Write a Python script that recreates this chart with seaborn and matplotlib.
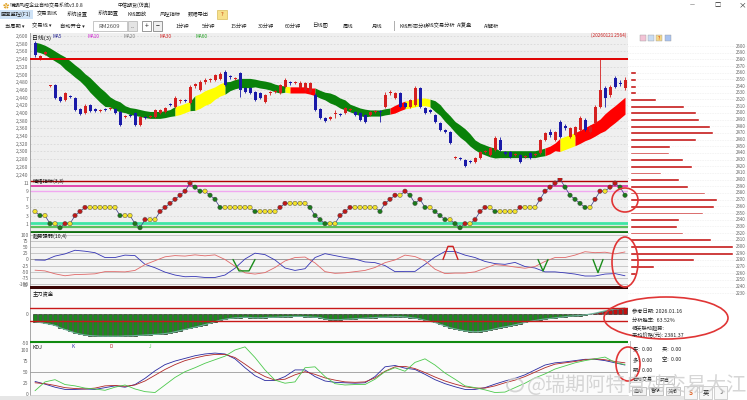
import numpy as np
import pandas as pd
import matplotlib
matplotlib.use("Agg")
import matplotlib.pyplot as plt
import seaborn as sns
from matplotlib.patches import Ellipse, Rectangle

sns.set_theme(style="white")
plt.rcParams["font.family"] = ["Noto Sans CJK SC", "DejaVu Sans"]
plt.rcParams["axes.unicode_minus"] = False

# ---------------- data ----------------
opens = [2582,2543,2553,2470,2473,2442,2434,2444,2439,2410,
         2400,2421,2410,2405,2410,2410,2410,2403,2390,2395,
         2400,2369,2390,2390,2390,2400,2403,2423,2416,2431,
         2434,2426,2470,2460,2481,2486,2486,2488,2507,2496,
         2488,2504,2465,2465,2455,2452,2429,2452,2455,2452,
         2468,2481,2478,2465,2460,2455,2447,2410,2387,2384,
         2397,2397,2400,2408,2403,2400,2395,2395,2403,2405,
         2416,2452,2439,2452,2426,2416,2421,2465,2413,2408,
         2395,2374,2356,2351,2283,2283,2278,2275,2273,2283,
         2299,2291,2304,2330,2299,2299,2291,2291,2286,2296,
         2291,2296,2330,2351,2330,2377,2366,2338,2343,2356,
         2382,2351,2374,2416,2465,2447,2491,2478,2465]
highs = [2587,2551,2561,2473,2475,2444,2455,2447,2442,2413,
         2423,2423,2413,2410,2413,2416,2413,2405,2395,2397,
         2403,2392,2392,2395,2410,2410,2416,2426,2444,2436,
         2436,2473,2478,2486,2491,2491,2501,2507,2512,2499,
         2494,2507,2468,2468,2457,2455,2449,2457,2460,2475,
         2491,2483,2483,2483,2481,2481,2452,2413,2390,2392,
         2408,2400,2416,2413,2405,2403,2397,2405,2408,2408,
         2455,2460,2455,2455,2429,2436,2470,2468,2416,2410,
         2397,2377,2358,2353,2288,2286,2280,2278,2286,2301,
         2304,2312,2340,2338,2301,2301,2296,2293,2291,2299,
         2296,2332,2351,2358,2353,2382,2371,2364,2366,2392,
         2387,2369,2421,2540,2470,2473,2496,2486,2494]
lows = [2546,2538,2551,2468,2436,2429,2431,2439,2405,2395,
        2397,2403,2403,2403,2405,2408,2397,2366,2387,2390,
        2366,2366,2384,2387,2387,2397,2400,2418,2413,2426,
        2429,2423,2465,2457,2475,2481,2483,2486,2470,2488,
        2486,2442,2452,2449,2431,2436,2426,2447,2452,2449,
        2465,2473,2475,2462,2457,2452,2405,2384,2377,2382,
        2387,2392,2397,2405,2392,2379,2374,2392,2400,2377,
        2413,2447,2436,2413,2413,2413,2418,2413,2397,2400,
        2374,2353,2348,2319,2280,2278,2260,2270,2270,2280,
        2296,2288,2301,2301,2291,2283,2288,2270,2283,2280,
        2288,2293,2327,2338,2327,2335,2356,2335,2340,2353,
        2353,2348,2371,2413,2416,2442,2465,2470,2460]
closes = [2551,2548,2559,2473,2439,2431,2452,2442,2408,2397,
          2418,2405,2405,2408,2408,2413,2400,2369,2392,2392,
          2369,2390,2387,2392,2408,2408,2413,2421,2439,2434,
          2431,2468,2475,2481,2486,2488,2499,2501,2473,2494,
          2491,2460,2455,2452,2434,2439,2447,2455,2457,2473,
          2486,2478,2481,2478,2478,2478,2408,2387,2379,2390,
          2400,2395,2413,2410,2395,2382,2377,2403,2405,2403,
          2447,2455,2452,2416,2416,2434,2465,2416,2400,2403,
          2377,2356,2351,2322,2286,2280,2262,2273,2283,2299,
          2301,2309,2335,2304,2293,2286,2293,2273,2288,2283,
          2293,2330,2348,2343,2351,2338,2361,2361,2364,2387,
          2356,2364,2416,2460,2439,2468,2468,2475,2486]

band_mid = [2572,2569,2564,2556,2548,2540,2530,2520,2509,2499,
            2486,2473,2460,2447,2436,2429,2421,2416,2410,2405,
            2403,2400,2397,2395,2395,2395,2397,2400,2405,2408,
            2413,2418,2426,2431,2439,2444,2452,2460,2465,2470,
            2475,2478,2478,2478,2478,2475,2473,2470,2465,2462,
            2462,2460,2460,2460,2460,2457,2455,2449,2444,2439,
            2434,2426,2421,2413,2408,2403,2400,2400,2400,2400,
            2403,2405,2410,2416,2421,2423,2426,2429,2429,2426,
            2418,2408,2392,2379,2364,2353,2343,2330,2317,2309,
            2304,2299,2296,2293,2293,2293,2293,2293,2293,2293,
            2293,2296,2299,2304,2312,2317,2322,2327,2332,2338,
            2345,2351,2358,2366,2376,2387,2397,2408,2419]
band_half = [12,12,12,13,13,13,16,16,16,16,
             16,19,19,19,19,13,13,13,9,9,
             9,9,9,9,9,9,9,9,12,12,
             12,12,19,19,19,19,16,16,16,12,
             12,12,12,12,10,10,10,10,10,10,
             8,8,8,8,8,8,10,10,10,13,
             13,13,13,10,10,10,10,8,8,8,
             8,8,10,10,10,10,10,10,10,10,
             14,14,14,14,14,16,16,16,13,13,
             13,13,13,9,9,9,9,9,9,9,
             9,9,10,10,10,17,17,17,17,17,
             17,18,18,18,22,22,22,22,22]
band_runs = [("G", 28), ("Y", 3), ("G", 1), ("Y", 6), ("G", 12), ("Y", 1),
             ("R", 5), ("G", 15), ("R", 3), ("Y", 5), ("G", 23), ("R", 3),
             ("Y", 3), ("R", 11)]
resistance = 2541

mood = [4,3,3,1,1,0,1,1,3,4,
        5,5,5,5,5,5,5,3,3,3,
        1,0,2,2,2,4,5,6,7,8,
        9,11,10,9,9,8,7,5,5,5,
        5,5,5,5,4,4,4,4,4,5,
        6,6,6,6,6,5,3,2,1,1,
        1,3,4,5,5,5,5,5,5,4,
        6,7,8,8,9,8,6,7,5,5,
        4,3,2,2,1,0,1,1,2,4,
        5,5,4,4,4,4,4,5,5,5,
        5,7,9,10,11,12,10,8,7,6,
        5,5,7,9,9,10,11,10,8]
mood_levels = [11.5, 10.3, 9.05, 1.25, 0.2, -1.0]
mood_level_colors = ["#b00000", "#e03aa8", "#f0a8f0", "#3fe6a6", "#5cc05c", "#0f6e0f"]
mood_level_widths = [1.0, 1.3, 1.0, 2.0, 1.6, 2.0]

osc_idx = list(range(0, 119, 2))
osc_blue = [-2,-3,14,23,38,34,28,8,8,18,16,-20,-34,-52,-64,-71,-70,-74,-74,-64,
            -36,2,26,20,-2,-35,-45,-38,8,24,16,8,2,-10,-13,-25,-50,-49,-49,-20,
            10,33,33,18,8,-8,-17,-20,-12,-29,-35,-51,-51,-55,-60,-68,-68,-60,-58,-67]
osc_red = [-44,-47,-59,-67,-62,-61,-59,-50,-50,-51,-45,-21,-5,11,16,14,19,15,19,0,
           -28,-55,-60,-54,-33,-6,8,10,-14,-50,-57,-55,-50,-45,-33,-13,-2,18,12,-5,
           -40,-58,-56,-56,-51,-36,-21,-25,-31,-36,-29,-8,8,8,18,32,28,30,23,31]
sig_v1_x = [39.6, 40.8, 42.8, 44.0]
sig_v1_y = [0, -47, -47, 0]
sig_a_x = [81.6, 82.6, 83.6, 84.6]
sig_a_y = [0, 54, 54, 0]
sig_v2_x = [100.6, 101.6, 102.6]
sig_v2_y = [0, -47, 0]
sig_v3_x = [111.6, 112.6, 113.6]
sig_v3_y = [0, -54, 0]

flow = [-13,-14,-15.5,-17,-19,-23,-26,-29,-32,-34,-35.5,-36.5,-37,
        -37.5,-37.5,-37.5,-37.5,-37.5,-37,-37,-36.5,
        -36,-35.5,-35,-34.5,-34,-33,-32,-30,-28,-26,-24,-22,-20,-17.5,-15.5,-12.5,-10,-8.5,-7,-6,-5.5,
        -5,-5.5,-6,-6,-5.5,-5,-5,-4.5,-4,-4,-3.5,-3.5,-4,-4.5,-5,-5.5,
        -8,-9,-9,-9,-8.5,-8,-7.5,-7,-6.5,-6,-5.5,-5,-5,-4.5,-4,-4,-4.5,-5.5,-6.5,-8,
        -10,-12,-14,-17,-20,-23,-25,-27,-28.5,-29.5,-30,-29.5,-28.5,-27,-25,-23,-21.5,-20,
        -18,-16,-14,-12,-10.5,-9,-8,-7,-6,-5,-4,-3,-2.5,-2,-1,0.5,2,4,6,8,9,10,11]
flow_levels = [47.5, 11.5, -11.5, -47.5]
flow_level_colors = ["#3a0505", "#c81818", "#c81818", "#108a10"]
flow_level_widths = [2.2, 1.0, 1.0, 1.5]

kdj_k = [29,23,16,11,11,12,11,15,19,16,22,36,53,67,75,81,87,91,93,91,
         80,60,42,31,31,40,55,55,40,30,27,26,25,26,40,62,65,59,56,45,
         33,24,17,11,11,15,23,30,36,44,55,66,71,73,76,79,79,76,71,66]
kdj_d = [26,24,20,15,13,12,14,19,20,18,21,30,43,56,67,76,82,87,90,90,
         83,68,52,40,32,34,44,51,45,37,32,28,27,28,37,52,62,63,58,49,
         39,30,23,17,14,14,19,26,32,40,50,60,68,71,74,78,80,78,74,71]
kdj_j = [8,28,33,22,19,14,12,9,16,21,12,6,4,21,38,51,60,70,78,86,
         100,107,83,55,32,25,28,60,62,40,24,21,22,22,34,51,60,52,72,80,
         66,48,34,19,15,10,4,5,15,25,37,46,57,64,71,76,80,84,72,67]

profile_prices = [2560,2550,2540,2530,2520,2510,2500,2490,2480,2470,2460,2450,2440,2430,2420,2410,
                  2400,2390,2380,2370,2360,2350,2340,2330,2320,2310,2300,2290,2280,2270,2260]
profile_vol = [6,6,6,6,26,54,66,69,80,83,66,40,39,53,62,31,49,58,75,87,84,73,49,47,53,81,103,103,64,24,6]
profile_ticks = list(range(2600, 2229, -10))

main_ticks = list(range(2600, 2239, -20))
ma_names = ["MA5", "MA10", "MA20", "MA30", "MA60"]
ma_colors = ["#202090", "#d020d0", "#808080", "#d02020", "#20a020"]

menu_items = ["交易测试", "系统设置", "系统配置", "K线回放", "风控指标", "数据导出"]
period_items = ["1分钟", "5分钟", "15分钟", "30分钟", "60分钟", "日线图", "周线", "月线"]
tool_items = ["K线形态分析", "K线交易分析", "AI复盘", "AI解析"]

# ---------------- figure ----------------
W, H = 747, 400
fig = plt.figure(figsize=(W / 100, H / 100), dpi=100, facecolor="white")
XMIN, XMAX = -1, 118.6
n = len(opens)
idx = np.arange(n)


def pax(x0, y0, x1, y1):
    return fig.add_axes([x0 / W, 1 - y1 / H, (x1 - x0) / W, (y1 - y0) / H])


def ftext(x, y, s, **kw):
    kw.setdefault("fontsize", 4.2)
    kw.setdefault("va", "center")
    kw.setdefault("color", "#222222")
    return fig.text(x / W, 1 - y / H, s, **kw)


def frect(x0, y0, x1, y1, **kw):
    fig.add_artist(Rectangle((x0 / W, 1 - y1 / H), (x1 - x0) / W, (y1 - y0) / H,
                             transform=fig.transFigure, **kw))


def style(ax, face):
    ax.set_facecolor(face)
    for s in ["top", "right"]:
        ax.spines[s].set_visible(False)
    ax.spines["bottom"].set_color("#c8c8c8")
    ax.spines["bottom"].set_linewidth(0.5)
    ax.spines["left"].set_color("#9a9a9a")
    ax.spines["left"].set_linewidth(0.6)
    ax.set_xticks([])
    ax.set_xlabel("")
    ax.set_ylabel("")
    ax.tick_params(axis="y", labelsize=3.6, colors="#666666", length=0, pad=1)
    ax.set_xlim(XMIN, XMAX)


# ---- window chrome ----
ftext(3, 5, "✿", color="#e0a020", fontsize=4.5)
ftext(10, 5, "瑞期风控企业自动交易系统v3.0.8", fontsize=3.6)
ftext(118, 5, "中信期货(仿真)", fontsize=3.6)
ftext(690, 5, "—", fontsize=4)
ftext(714, 5, "□", fontsize=4.5)
ftext(739, 5, "×", fontsize=5.5)
frect(0, 10, 33, 18.5, facecolor="#cfe3f7", edgecolor="none")
ftext(1, 14, "画面监控(F1)", fontsize=3.8)
for xm, t in zip([37, 67, 98, 127, 160, 188], menu_items):
    ftext(xm, 14, t, fontsize=3.8)
frect(217, 10, 227, 18.5, facecolor="#f7e08a", edgecolor="#d0b040", lw=0.4)
ftext(222, 14, "?", fontsize=4, ha="center", color="#c03000")

for x0, t in [(4, "当周期 ▾"), (31, "交易线 ▾"), (59, "自动开仓 ▾")]:
    ftext(x0 + 1, 26, t, fontsize=3.8)
frect(93, 21, 127, 31, facecolor="white", edgecolor="#b0b0b0", lw=0.5)
ftext(98, 26, "RM2609", fontsize=4.2, color="#555555")
frect(128, 21, 137, 31, facecolor="#e4e4e4", edgecolor="#b0b0b0", lw=0.5)
ftext(132.5, 26, "...", fontsize=3.5, ha="center")
frect(142, 21, 151, 31, facecolor="white", edgecolor="#707070", lw=0.5)
ftext(146.5, 26, "+", fontsize=5, ha="center")
frect(153, 21, 162, 31, facecolor="#f0f0f0", edgecolor="#707070", lw=0.5)
ftext(157.5, 26, "−", fontsize=5, ha="center")
for xp, t in zip([175, 202, 230, 258, 285, 312, 343, 372], period_items):
    ftext(xp, 26, t, fontsize=3.8)
frect(394, 21, 394.6, 31, facecolor="#b0b0b0", edgecolor="none")
for xp, t in zip([399, 426, 457, 484], tool_items):
    ftext(xp, 26, t, fontsize=3.8)

# ---- main candlestick chart ----
ax = pax(30, 33, 628, 178)
mid = np.array(band_mid, dtype=float)
half = np.array(band_half, dtype=float)
state = "".join(c * k for c, k in band_runs)
band_colors = {"G": "#0a820a", "Y": "#ffff00", "R": "#ff0000"}
start = 0
for k in range(1, n + 1):
    if k == n or state[k] != state[start]:
        end = min(k, n - 1)
        ax.fill_between(idx[start:end + 1], (mid - half)[start:end + 1], (mid + half)[start:end + 1],
                        color=band_colors[state[start]], lw=0, zorder=1)
        start = k

df = pd.DataFrame({"idx": idx, "open": opens, "high": highs, "low": lows, "close": closes})
up = df["close"] >= df["open"]
ccol = np.where(up, "#d42020", "#1a1aa8")
ax.vlines(df["idx"], df["low"], df["high"], colors=ccol, lw=0.6, zorder=2)
ax.bar(df["idx"], (df["close"] - df["open"]).abs().clip(lower=1.5),
       bottom=np.minimum(df["open"], df["close"]), width=0.6, color=ccol, lw=0, zorder=3)
ax.axhline(resistance, color="#e00000", lw=1.4, zorder=4)
for v in main_ticks:
    ax.axhline(v, color="#cdcdcd", lw=0.4, ls=(0, (3, 3)), zorder=0)
style(ax, "#efefef")
ax.set_ylim(2231, 2608)
ax.set_yticks(main_ticks)
ax.set_yticklabels([f"{v:,}" for v in main_ticks])
ax.text(0.004, 0.985, "日线(3)", transform=ax.transAxes, fontsize=4.2, va="top", color="#111111")
for xm, t, c in zip([53, 88, 123, 160, 195], ma_names, ma_colors):
    ftext(xm, 36, t, fontsize=3.4, color=c)
ftext(591, 35.5, "(20260121 2564)", fontsize=3.4, color="#d02020")

# ---- panel 1: mood dots ----
ax1 = pax(30, 178, 628, 233)
for lv, c, w in zip(mood_levels, mood_level_colors, mood_level_widths):
    ax1.axhline(lv, color=c, lw=w, zorder=1)
for v in [7, 5, 3]:
    ax1.axhline(v, color="#cccccc", lw=0.4, ls=(0, (3, 3)), zorder=0)
d1 = pd.DataFrame({"idx": idx, "val": mood})
dif = np.diff(np.array(mood), prepend=mood[0])
d1["dir"] = np.where(dif > 0, "up", np.where(dif < 0, "down", "flat"))
sns.lineplot(data=d1, x="idx", y="val", ax=ax1, color="#3a3a8a", lw=0.5, zorder=2)
sns.scatterplot(data=d1, x="idx", y="val", hue="dir", ax=ax1, legend=False, s=10,
                palette={"up": "#c01818", "down": "#1a7a1a", "flat": "#f2e22a"},
                edgecolor="#404040", linewidth=0.3, zorder=3)
style(ax1, "#efefef")
ax1.set_ylim(-1.3, 12.25)
ax1.set_yticks([11, 9, 7, 5, 3, 1])
ax1.text(0.004, 0.99, "情绪指标(3,3)", transform=ax1.transAxes, fontsize=3.8, va="top", color="#111111")

# ---- panel 2: oscillator ----
ax2 = pax(30, 233, 628, 285)
for v in range(-100, 101, 25):
    ax2.axhline(v, color="#909090" if v == 0 else "#c0c0c0", lw=0.6, zorder=0)
sns.lineplot(x=osc_idx, y=osc_blue, ax=ax2, color="#3535b5", lw=0.6)
sns.lineplot(x=osc_idx, y=osc_red, ax=ax2, color="#e06868", lw=0.6)
for sx, sy in [(sig_v1_x, sig_v1_y), (sig_v2_x, sig_v2_y), (sig_v3_x, sig_v3_y)]:
    ax2.plot(sx, sy, color="#1a8c1a", lw=1.0, zorder=4)
ax2.plot(sig_a_x, sig_a_y, color="#d02020", lw=1.0, zorder=4)
style(ax2, "#f4f4f4")
ax2.set_ylim(-105, 109)
ax2.set_yticks(list(range(100, -101, -25)))
ax2.text(0.004, 0.99, "趋势强弱(10,4)", transform=ax2.transAxes, fontsize=3.8, va="top", color="#111111")

# ---- panel 3: money flow histogram ----
ax3 = pax(30, 285, 628, 344)
fl = np.array(flow)
ax3.bar(idx, fl, width=0.75, color=np.where(fl >= 0, "#c01010", "#1c8a1c"),
        edgecolor="#101010", linewidth=0.4, zorder=2)
sns.lineplot(x=idx, y=fl, ax=ax3, color="#6fb39a", lw=0.8, zorder=3)
for lv, c, w in zip(flow_levels, flow_level_colors, flow_level_widths):
    ax3.axhline(lv, color=c, lw=w, zorder=4)
style(ax3, "#fbfbfb")
ax3.set_ylim(-51, 50.5)
ax3.set_yticks([50, 0, -50])
ax3.text(0.004, 0.88, "主力资金", transform=ax3.transAxes, fontsize=3.8, va="top", color="#111111")

# ---- panel 4: KDJ ----
ax4 = pax(30, 344, 628, 395)
ax4.axhline(50, color="#a8a8a8", lw=0.7, zorder=0)
sns.lineplot(x=osc_idx, y=kdj_k, ax=ax4, color="#2a2aa0", lw=0.6)
sns.lineplot(x=osc_idx, y=kdj_d, ax=ax4, color="#b02828", lw=0.6)
sns.lineplot(x=osc_idx, y=kdj_j, ax=ax4, color="#4cc94c", lw=0.6)
style(ax4, "#fbfbfb")
ax4.set_ylim(-1.6, 113.5)
ax4.set_yticks([100, 75, 50, 25, 0])
ax4.text(0.004, 0.99, "KDJ", transform=ax4.transAxes, fontsize=3.8, va="top", color="#111111")
for xm, t, c in zip([72, 110, 149], ["K", "D", "J"], ["#2a2aa0", "#b02828", "#4cc94c"]):
    ftext(xm, 346, t, fontsize=3.4, color=c)

# ---- right volume profile ----
axp = pax(628, 33, 747, 300)
axp.set_facecolor("white")
for v in profile_ticks:
    axp.axhline(v, color="#dddddd", lw=0.4, ls=(0, (1, 2)), zorder=0)
    axp.text(116, v, str(v), fontsize=3.2, color="#666666", ha="right", va="center")
axp.barh(profile_prices, profile_vol, height=4.2, left=0, color="#c41414", zorder=2)
axp.set_xlim(-2, 117)
axp.set_ylim(2219.8, 2619.5)
axp.axis("off")
for xi, c in zip([640, 648, 656, 665], ["#f3c3d6", "#c8dcf3", "#f4d98a", "#a9c3f0"]):
    frect(xi, 35, xi + 6, 41, facecolor=c, edgecolor="#9a9a9a", lw=0.3)
ftext(659, 38, "?", fontsize=3.6, ha="center", color="#d03000")

# ---- info panel ----
ftext(632, 312, "参考日期: 2026.01.16", fontsize=3.8)
ftext(632, 320, "分析胜率:  63.52%", fontsize=3.8)
ftext(632, 328, "相关联动趋势:", fontsize=3.8)
ftext(632, 335, "平均价格(元): 2381.37", fontsize=3.8)
frect(630, 340.5, 745, 341, facecolor="#bdbdbd", edgecolor="none")
frect(630, 341, 630.5, 384, facecolor="#bdbdbd", edgecolor="none")
ftext(633, 349, "买:  0.00", fontsize=3.8)
ftext(662, 349, "卖:  0.00", fontsize=3.8)
ftext(633, 360, "多:  0.00", fontsize=3.8)
ftext(662, 360, "空:  0.00", fontsize=3.8)
ftext(633, 370, "期:  0.00", fontsize=3.8)
ftext(632, 380, "自动交易", fontsize=3.6)
frect(656, 376, 674, 384, facecolor="white", edgecolor="#9a9a9a", lw=0.4)
ftext(665, 380, "开启", fontsize=3.5, ha="center")
for xb, t in zip([632, 649, 666], ["启动", "暂停", "关闭"]):
    frect(xb, 387, xb + 14, 395, facecolor="#f3f3f3", edgecolor="#9a9a9a", lw=0.4)
    ftext(xb + 7, 391, t, fontsize=3.5, ha="center")
for xb in [684, 699, 714]:
    frect(xb, 386, xb + 13, 399, facecolor="#f7f7f7", edgecolor="#b0b0b0", lw=0.4)
ftext(690.5, 392.5, "S", fontsize=4.5, color="#e06020", fontweight="bold", ha="center")
ftext(705.5, 392.5, "英", fontsize=4.5, ha="center")
ftext(720.5, 392.5, "☽", fontsize=4.5, ha="center")

# status bar
frect(0, 396, 684, 400, facecolor="#e6e6e6", edgecolor="none")

# ---- hand-drawn red ellipses ----
for cx, cy, ew, eh in [(625, 200, 26, 24), (625, 262, 26, 50), (666, 318, 124, 42), (628, 364, 24, 34)]:
    fig.add_artist(Ellipse((cx / W, 1 - cy / H), ew / W, eh / H, transform=fig.transFigure,
                           fill=False, edgecolor="#e03535", lw=1.2))

# ---- watermark ----
fig.add_artist(Ellipse((515 / W, 1 - 385 / H), 16 / W, 13 / H, transform=fig.transFigure,
                       fill=False, edgecolor="#cfcfcf", lw=1.3, alpha=0.85))
ftext(527, 385, "@瑞期阿特自动交易大江", fontsize=14.5, color="#cfcfcf", alpha=0.85)

fig.savefig("out.png", dpi=100)
